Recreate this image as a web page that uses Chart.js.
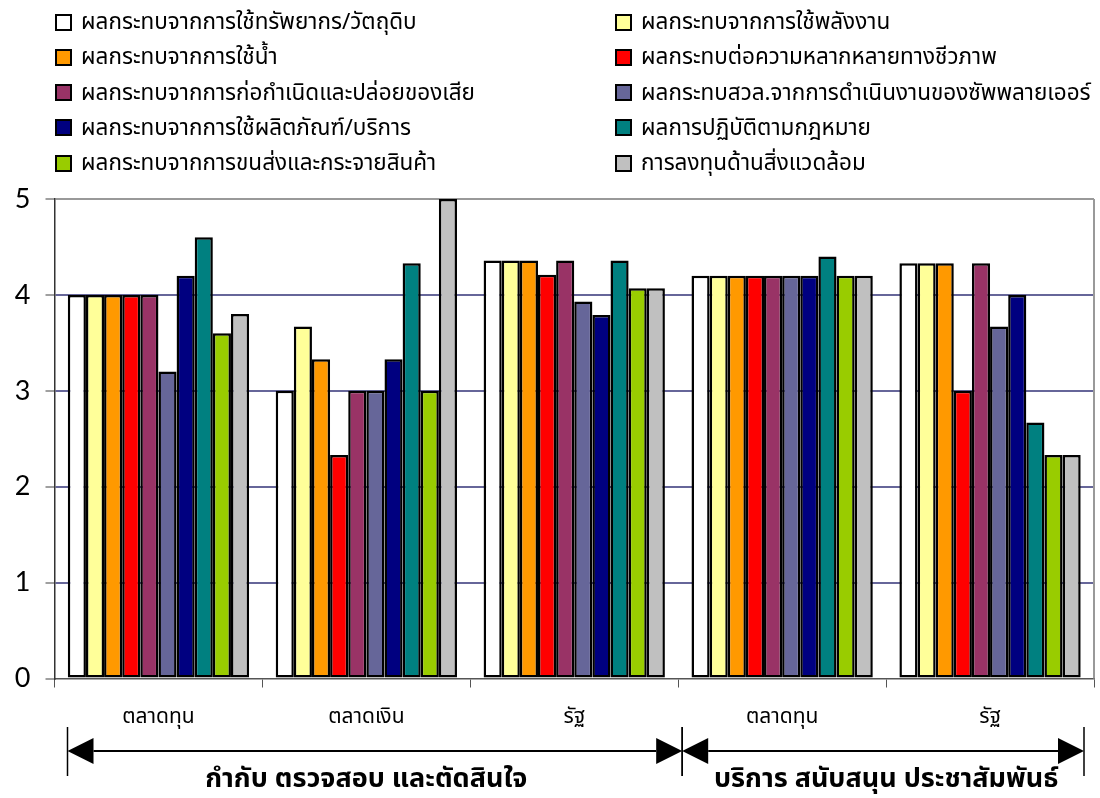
<!DOCTYPE html>
<html>
<head>
<meta charset="utf-8">
<script src="https://cdn.jsdelivr.net/npm/chart.js@4.4.1/dist/chart.umd.min.js"></script>
<style>
  html, body { margin: 0; padding: 0; background: #ffffff; }
  #wrap { position: relative; width: 1100px; height: 798px; }
  #chart { position: absolute; left: 0; top: 0; }
  #legend { position: absolute; left: 0; top: 0; width: 1100px; height: 190px; }
  .item {
    position: absolute; display: flex; align-items: center; height: 30px;
    font-family: "Noto Sans Thai", "Loma", "Garuda", "Tlwg Typo", "Noto Sans", sans-serif;
    font-size: 22.5px; color: #000; white-space: nowrap;
  }
  .box { width: 13px; height: 13px; border: 2px solid #000; margin-right: 9px; flex: none; }
</style>
</head>
<body>
<div id="wrap">
  <canvas id="chart" width="1100" height="798"></canvas>
  <div id="legend"></div>
</div>
<script>
// Categories along the x axis
const categories = ['ตลาดทุน', 'ตลาดเงิน', 'รัฐ', 'ตลาดทุน', 'รัฐ'];

// Groups of categories marked by the arrows under the axis
const groupLabels = ['กำกับ ตรวจสอบ และตัดสินใจ', 'บริการ สนับสนุน ประชาสัมพันธ์'];
const groupRanges = [[0, 2], [3, 4]];

// Series names and fill colours
const seriesNames = [
  'ผลกระทบจากการใช้ทรัพยากร/วัตถุดิบ',
  'ผลกระทบจากการใช้พลังงาน',
  'ผลกระทบจากการใช้น้ำ',
  'ผลกระทบต่อความหลากหลายทางชีวภาพ',
  'ผลกระทบจากการก่อกำเนิดและปล่อยของเสีย',
  'ผลกระทบสวล.จากการดำเนินงานของซัพพลายเออร์',
  'ผลกระทบจากการใช้ผลิตภัณฑ์/บริการ',
  'ผลการปฏิบัติตามกฎหมาย',
  'ผลกระทบจากการขนส่งและกระจายสินค้า',
  'การลงทุนด้านสิ่งแวดล้อม'
];
const seriesColors = ['#FFFFFF', '#FFFF99', '#FF9900', '#FF0000', '#993366',
                      '#666699', '#000080', '#008080', '#99CC00', '#C0C0C0'];

// Scores per series, one value per category
const resources    = [4.00, 3.00, 4.36, 4.20, 4.33];
const energy       = [4.00, 3.67, 4.36, 4.20, 4.33];
const water        = [4.00, 3.33, 4.36, 4.20, 4.33];
const biodiversity = [4.00, 2.33, 4.21, 4.20, 3.00];
const waste        = [4.00, 3.00, 4.36, 4.20, 4.33];
const suppliers    = [3.20, 3.00, 3.93, 4.20, 3.67];
const products     = [4.20, 3.33, 3.79, 4.20, 4.00];
const compliance   = [4.60, 4.33, 4.36, 4.40, 2.67];
const transport    = [3.60, 3.00, 4.07, 4.20, 2.33];
const investment   = [3.80, 5.00, 4.07, 4.20, 2.33];
const seriesValues = [resources, energy, water, biodiversity, waste,
                      suppliers, products, compliance, transport, investment];

// Y axis tick labels
const yTicks = ['0', '1', '2', '3', '4', '5'];

const thaiFont = '"Noto Sans Thai", "Loma", "Garuda", "Tlwg Typo", "Noto Sans", sans-serif';

// Legend in two columns, filled row by row
const legendEl = document.getElementById('legend');
seriesNames.forEach((name, i) => {
  const row = Math.floor(i / 2), col = i % 2;
  const item = document.createElement('div');
  item.className = 'item';
  item.style.left = (col === 0 ? 55 : 615) + 'px';
  item.style.top = (22 + row * 35.25 - 15) + 'px';
  const box = document.createElement('span');
  box.className = 'box';
  box.style.background = seriesColors[i];
  const label = document.createElement('span');
  label.textContent = name;
  item.appendChild(box);
  item.appendChild(label);
  legendEl.appendChild(item);
});

// Plot frame on the right side, and the group arrows beneath the axis
const framePlugin = {
  id: 'frameAndGroups',
  beforeDatasetsDraw(chart) {
    const { ctx, chartArea: a } = chart;
    ctx.save();
    ctx.strokeStyle = '#999999';
    ctx.lineWidth = 2;
    ctx.beginPath();
    ctx.moveTo(a.right, a.top);
    ctx.lineTo(a.right, a.bottom);
    ctx.stroke();
    ctx.restore();
  },
  afterDraw(chart) {
    const { ctx } = chart;
    const x = chart.scales.x;
    const step = (x.right - x.left) / categories.length;
    const yLine = 751, yTop = 727, yBot = 776, headLen = 26, headHalf = 13;
    const edge = (idx) => x.left + idx * step;
    const ends = groupRanges.map(([from, to]) => {
      const l = from === 0 ? edge(from) + 13 : edge(from) + 4;
      const r = to === categories.length - 1 ? edge(to + 1) - 10 : edge(to + 1) + 4;
      return [l, r];
    });
    ctx.save();
    ctx.strokeStyle = '#000';
    ctx.fillStyle = '#000';
    ends.forEach(([l, r], g) => {
      // end bars
      ctx.lineWidth = 1.5;
      [l, r].forEach(px => {
        ctx.beginPath();
        ctx.moveTo(px, yTop);
        ctx.lineTo(px, yBot);
        ctx.stroke();
      });
      // shaft
      ctx.lineWidth = 2;
      ctx.beginPath();
      ctx.moveTo(l + headLen, yLine);
      ctx.lineTo(r - headLen, yLine);
      ctx.stroke();
      // heads
      ctx.beginPath();
      ctx.moveTo(l, yLine);
      ctx.lineTo(l + headLen, yLine - headHalf);
      ctx.lineTo(l + headLen, yLine + headHalf);
      ctx.closePath();
      ctx.fill();
      ctx.beginPath();
      ctx.moveTo(r, yLine);
      ctx.lineTo(r - headLen, yLine - headHalf);
      ctx.lineTo(r - headLen, yLine + headHalf);
      ctx.closePath();
      ctx.fill();
      // group caption
      const [from, to] = groupRanges[g];
      const cx = (x.getPixelForValue(from) + x.getPixelForValue(to)) / 2;
      ctx.font = 'bold 27px ' + thaiFont;
      ctx.textAlign = 'center';
      ctx.textBaseline = 'middle';
      ctx.fillText(groupLabels[g], cx, 782);
    });
    ctx.restore();
  }
};

new Chart(document.getElementById('chart'), {
  type: 'bar',
  data: {
    labels: categories,
    datasets: seriesNames.map((name, i) => ({
      label: name,
      data: seriesValues[i],
      backgroundColor: seriesColors[i],
      borderColor: '#000000',
      borderWidth: 2.5,
      borderSkipped: false,
      categoryPercentage: 0.872,
      barPercentage: 1.0
    }))
  },
  options: {
    responsive: false,
    animation: false,
    layout: { padding: { top: 199, right: 6, bottom: 0, left: 0 } },
    plugins: { legend: { display: false }, tooltip: { enabled: false } },
    scales: {
      x: {
        afterFit(scale) { scale.height = 119.5; },
        grid: {
          offset: true,
          drawOnChartArea: false,
          drawTicks: true,
          tickLength: 9,
          tickColor: '#555555',
          tickWidth: 1
        },
        border: { display: true, color: '#555555', width: 1.5 },
        ticks: {
          padding: 19,
          color: '#000',
          font: { family: thaiFont, size: 21 }
        }
      },
      y: {
        min: 0,
        max: 5,
        afterFit(scale) { scale.width = 54.5; },
        afterBuildTicks(scale) {
          scale.ticks = yTicks.map(t => ({ value: Number(t) }));
        },
        grid: {
          color: (c) => c.tick && c.tick.value === 5 ? '#999999'
                      : (c.tick && c.tick.value === 0 ? 'rgba(0,0,0,0)' : '#666699'),
          lineWidth: 2,
          tickLength: 9,
          tickColor: '#808080',
          tickWidth: 1.5
        },
        border: { display: true, color: '#333333', width: 1.5 },
        ticks: {
          padding: 15,
          color: '#000',
          font: { family: '"Lato", "Open Sans", sans-serif', size: 27 },
          callback: (v) => yTicks[v] !== undefined ? yTicks[v] : ''
        }
      }
    }
  },
  plugins: [framePlugin]
});
</script>
</body>
</html>
